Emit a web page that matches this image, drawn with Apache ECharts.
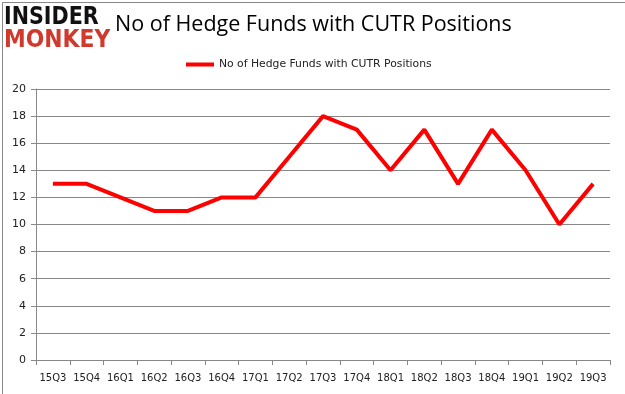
<!DOCTYPE html>
<html><head><meta charset="utf-8">
<script src="https://cdn.jsdelivr.net/npm/echarts@6/dist/echarts.min.js"></script>
<style>html,body{margin:0;padding:0;background:#fff}#c{width:625px;height:394px}</style>
</head><body><div id="c"></div>
<script>
const categories = ['15Q3','15Q4','16Q1','16Q2','16Q3','16Q4','17Q1','17Q2','17Q3','17Q4','18Q1','18Q2','18Q3','18Q4','19Q1','19Q2','19Q3'];
const values = [13,13,12,11,11,12,12,15,18,17,14,17,13,17,14,10,13];
const seriesName = 'No of Hedge Funds with CUTR Positions';
const titleText = 'No of Hedge Funds with CUTR Positions';

const chart = echarts.init(document.getElementById('c'), null, {renderer:'canvas'});
chart.setOption({
  animation:false,
  backgroundColor:'#fff',
  title:{text:titleText, left:110, top:9, textStyle:{fontFamily:'Open Sans', fontSize:21.5, fontWeight:'normal', color:'#000'}},
  legend:{top:54, left:181, itemWidth:28, itemHeight:4, icon:'rect', itemGap:3,
    textStyle:{fontFamily:'DejaVu Sans', fontSize:10.8, color:'#222'}, data:[seriesName]},
  grid:{left:36, right:15, top:89, bottom:34},
  xAxis:{type:'category', data:categories, boundaryGap:true,
    axisLine:{lineStyle:{color:'#888'}}, axisTick:{show:true, alignWithLabel:false, length:5, lineStyle:{color:'#888'}},
    axisLabel:{fontFamily:'DejaVu Sans', fontSize:10, color:'#222', margin:13, interval:0}},
  yAxis:{type:'value', min:0, max:20, interval:2,
    axisLine:{show:true, lineStyle:{color:'#888'}}, axisTick:{show:true, length:5, inside:false, lineStyle:{color:'#888'}},
    splitLine:{lineStyle:{color:'#888'}},
    axisLabel:{fontFamily:'DejaVu Sans', fontSize:11, color:'#222', margin:10}},
  series:[{name:seriesName, type:'line', data:values, symbol:'none', lineStyle:{color:'#ff0000', width:4}, itemStyle:{color:'#ff0000'}}],
  graphic:[
    {type:'rect', left:0, top:0, shape:{x:0,y:0,width:624,height:393}, style:{fill:'none', stroke:'#888', lineWidth:1}, silent:true},
    {type:'text', x:4, y:6, scaleX:0.86, style:{text:'INSIDER', fontFamily:'DejaVu Sans', fontWeight:'bold', fontSize:24, fill:'#111'}},
    {type:'text', x:4, y:29, scaleX:0.91, style:{text:'MONKEY', fontFamily:'DejaVu Sans', fontWeight:'bold', fontSize:24, fill:'#d0392b'}}
  ]
});
</script></body></html>
